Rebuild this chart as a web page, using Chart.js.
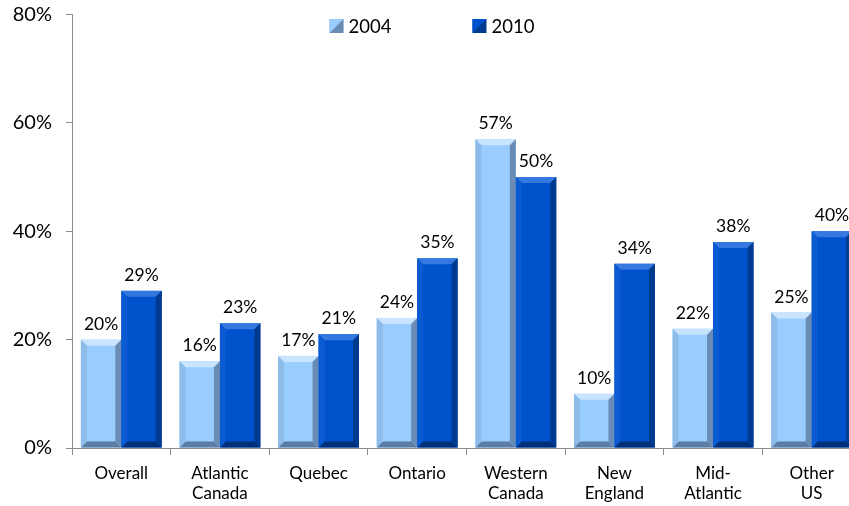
<!DOCTYPE html>
<html>
<head>
<meta charset="utf-8">
<script src="https://cdn.jsdelivr.net/npm/chart.js@4.4.0/dist/chart.umd.min.js"></script>
<style>
  html, body { margin: 0; padding: 0; background: #fff; overflow: hidden; }
  #wrap { width: 870px; height: 506px; position: relative; }
</style>
</head>
<body>
<div id="wrap"><canvas id="regionChart"></canvas></div>
<script>
// chart data
const categories = [["Overall"], ["Atlantic", "Canada"], ["Quebec"], ["Ontario"], ["Western", "Canada"], ["New", "England"], ["Mid-", "Atlantic"], ["Other", "US"]];
const seriesLabels = ["2004", "2010"];
const values2004 = [20, 16, 17, 24, 57, 10, 22, 25];
const values2010 = [29, 23, 21, 35, 50, 34, 38, 40];
const yTickValues = [0, 20, 40, 60, 80];

// bevel colours for each series
const palettes = [
    { face: "#99CCFF", top: "#C8E4FF", left: "#8DBCEB", right: "#6A8CB4", bottom: "#5B7CA3" },
    { face: "#0052CC", top: "#3579E0", left: "#0A5AD2", right: "#003A8F", bottom: "#00307A" },
];

const FONT = "Lato, 'Open Sans', sans-serif";

function drawBevel(ctx, l, t, r, b, s, pal) {
    ctx.fillStyle = pal.face;
    ctx.fillRect(l, t, r - l, b - t);
    const poly = (pts, color) => {
        ctx.beginPath();
        ctx.moveTo(pts[0][0], pts[0][1]);
        for (let i = 1; i < pts.length; i++) ctx.lineTo(pts[i][0], pts[i][1]);
        ctx.closePath();
        ctx.fillStyle = color;
        ctx.fill();
    };
    poly([[l, t], [r, t], [r - s, t + s], [l + s, t + s]], pal.top);
    poly([[l, b], [r, b], [r - s, b - s], [l + s, b - s]], pal.bottom);
    poly([[l, t], [l + s, t + s], [l + s, b - s], [l, b]], pal.left);
    poly([[r, t], [r - s, t + s], [r - s, b - s], [r, b]], pal.right);
}

// draws the beveled bars and the value labels on top
const bevelPlugin = {
    id: "bevel",
    afterDatasetsDraw(chart) {
        const ctx = chart.ctx;
        ctx.save();
        chart.data.datasets.forEach((ds, di) => {
            const meta = chart.getDatasetMeta(di);
            meta.data.forEach((bar, i) => {
                const p = bar.getProps(["x", "y", "base", "width"], true);
                const l = p.x - p.width / 2, r = p.x + p.width / 2;
                drawBevel(ctx, l, p.y, r, p.base, 6, palettes[di]);
                ctx.fillStyle = "#000";
                ctx.font = "17.5px " + FONT;
                ctx.textAlign = "center";
                ctx.textBaseline = "alphabetic";
                ctx.fillText(ds.data[i] + "%", p.x, p.y - 10);
            });
        });
        ctx.restore();
    },
};

// legend drawn inside the plot area
const legendPlugin = {
    id: "innerLegend",
    afterDraw(chart) {
        const ctx = chart.ctx;
        ctx.save();
        ctx.font = "18.5px " + FONT;
        const box = 14, gap = 5, spacing = 81;
        const widths = seriesLabels.map(t => box + gap + ctx.measureText(t).width);
        const total = widths.reduce((a, w) => a + w, 0) + spacing;
        let x = 432 - total / 2;
        const yc = 26;
        seriesLabels.forEach((t, i) => {
            const pal = palettes[i];
            const t0 = yc - box / 2;
            // split marker: light upper-left, dark lower-right
            ctx.fillStyle = pal.right;
            ctx.fillRect(x, t0, box, box);
            ctx.beginPath();
            ctx.moveTo(x, t0);
            ctx.lineTo(x + box, t0);
            ctx.lineTo(x, t0 + box);
            ctx.closePath();
            ctx.fillStyle = pal.face;
            ctx.fill();
            ctx.fillStyle = "#000";
            ctx.textAlign = "left";
            ctx.textBaseline = "middle";
            ctx.fillText(t, x + box + gap, yc + 1);
            x += widths[i] + spacing;
        });
        ctx.restore();
    },
};

const ctx = document.getElementById("regionChart").getContext("2d");
new Chart(ctx, {
    type: "bar",
    data: {
        labels: categories,
        datasets: [
            { label: seriesLabels[0], data: values2004, backgroundColor: "rgba(0,0,0,0)" },
            { label: seriesLabels[1], data: values2010, backgroundColor: "rgba(0,0,0,0)" },
        ],
    },
    options: {
        responsive: true,
        maintainAspectRatio: false,
        animation: false,
        layout: { padding: { top: 14.5, right: 9, left: 0, bottom: 0 } },
        datasets: { bar: { categoryPercentage: 0.82, barPercentage: 1.0 } },
        plugins: { legend: { display: false }, tooltip: { enabled: false } },
        scales: {
            x: {
                grid: { drawOnChartArea: false, tickLength: 7, color: "#8C8C8C", offset: true },
                border: { color: "#8C8C8C" },
                ticks: { color: "#000", font: { family: FONT, size: 17, lineHeight: 1.15 }, padding: 9, maxRotation: 0, autoSkip: false },
                afterFit(scale) { scale.height = 58; },
            },
            y: {
                min: 0,
                max: 80,
                afterBuildTicks(scale) { scale.ticks = yTickValues.map(v => ({ value: v })); },
                grid: { drawOnChartArea: false, tickLength: 6, color: "#8C8C8C" },
                border: { color: "#8C8C8C" },
                ticks: { color: "#000", font: { family: FONT, size: 20 }, padding: 14, callback: v => v + "%" },
                afterFit(scale) {
                    scale.width = 72;
                    scale.paddingTop = 0;
                    scale.paddingBottom = 0;
                },
            },
        },
    },
    plugins: [bevelPlugin, legendPlugin],
});
</script>
</body>
</html>
